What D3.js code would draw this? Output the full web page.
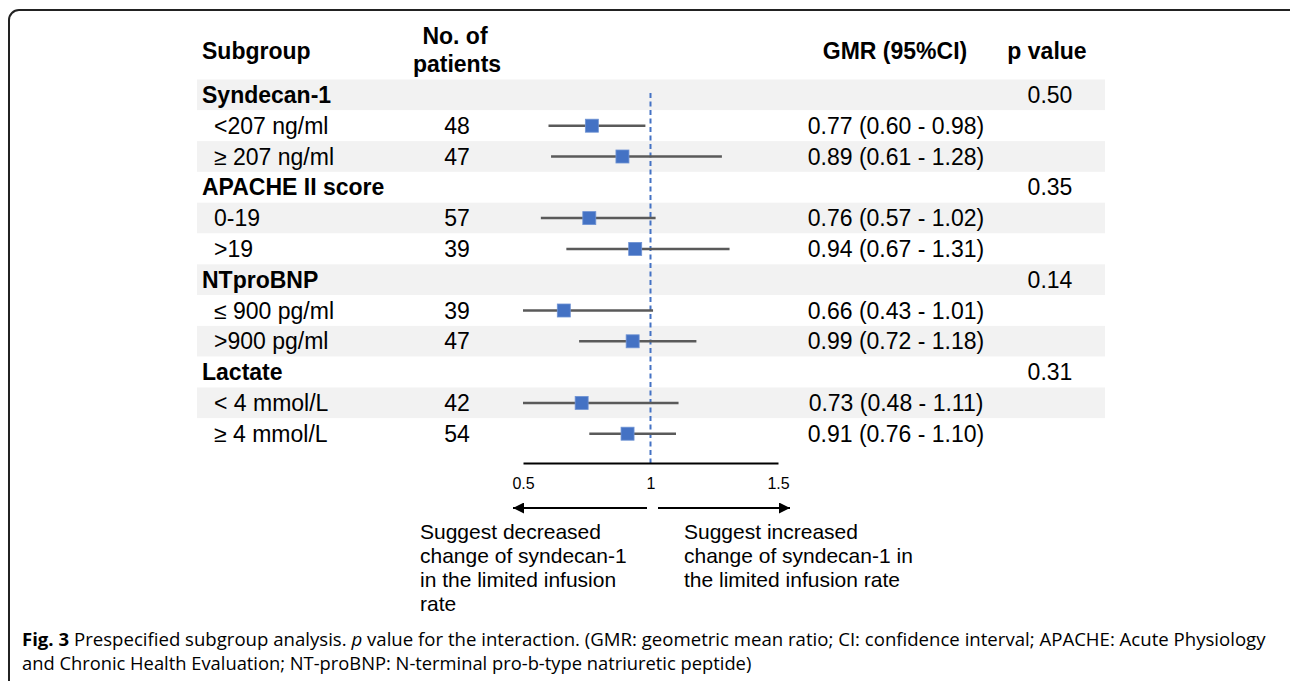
<!DOCTYPE html>
<html>
<head>
<meta charset="utf-8">
<script src="https://cdn.jsdelivr.net/npm/d3@7"></script>
<style>
  body { margin: 0; background: #fff; }
  svg text { font-family: "Liberation Sans", Arial, sans-serif; fill: #000; }
  .caption text { font-family: "Open Sans", sans-serif; }
</style>
</head>
<body>
<div id="chart"></div>
<script>
// subgroup headers with their interaction p values
var groups = ["Syndecan-1", "APACHE II score", "NTproBNP", "Lactate"];
var pValues = ["0.50", "0.35", "0.14", "0.31"];

// sub rows (two per group)
var subLabels = ["<207 ng/ml", "\u2265 207 ng/ml", "0-19", ">19", "\u2264 900 pg/ml", ">900 pg/ml", "< 4 mmol/L", "\u2265 4 mmol/L"];
var patients = [48, 47, 57, 39, 39, 47, 42, 54];
var gmrText = ["0.77 (0.60 - 0.98)", "0.89 (0.61 - 1.28)", "0.76 (0.57 - 1.02)", "0.94 (0.67 - 1.31)",
               "0.66 (0.43 - 1.01)", "0.99 (0.72 - 1.18)", "0.73 (0.48 - 1.11)", "0.91 (0.76 - 1.10)"];
// marker positions as drawn in the figure
var gmr = [0.77, 0.89, 0.76, 0.94, 0.66, 0.93, 0.73, 0.91];
var ciLow = [0.60, 0.61, 0.57, 0.67, 0.43, 0.72, 0.48, 0.76];
var ciHigh = [0.98, 1.28, 1.02, 1.31, 1.01, 1.18, 1.11, 1.10];

var axisTicks = [0.5, 1, 1.5];

var svgWidth = 1290, svgHeight = 681;

var svg = d3.select("#chart").append("svg")
  .attr("width", svgWidth)
  .attr("height", svgHeight);

// frame
svg.append("rect")
  .attr("x", 9).attr("y", 10)
  .attr("width", 1290).attr("height", 720)
  .attr("rx", 10)
  .attr("fill", "none")
  .attr("stroke", "#222")
  .attr("stroke-width", 2);

// build table rows
var rows = [];
groups.forEach(function(g, gi) {
  rows.push({ type: "group", label: g, p: pValues[gi] });
  for (var k = 0; k < 2; k++) {
    var i = gi * 2 + k;
    rows.push({ type: "sub", label: subLabels[i], n: patients[i], est: gmr[i],
                lo: ciLow[i], hi: ciHigh[i], txt: gmrText[i] });
  }
});

var rowTop = 79.5, rowH = 30.8;
var y = d3.scaleBand()
  .domain(d3.range(rows.length))
  .range([rowTop, rowTop + rowH * rows.length])
  .padding(0);

var x = d3.scaleLinear().domain([0.5, 1.5]).range([523, 778]);

var fs = 23;
var base = 8;

// row shading
svg.append("g").selectAll("rect")
  .data(rows)
  .enter()
  .append("rect")
  .attr("x", 197)
  .attr("y", (d, i) => y(i))
  .attr("width", 1105 - 197)
  .attr("height", y.bandwidth())
  .attr("fill", (d, i) => i % 2 === 0 ? "#f2f2f2" : "#fff");

// column headers
var head = svg.append("g").attr("font-size", fs);
head.append("text").attr("x", 202).attr("y", 59).text("Subgroup").style("font-weight", "bold");
head.append("text").attr("x", 455).attr("y", 44).attr("text-anchor", "middle").text("No. of").style("font-weight", "bold");
head.append("text").attr("x", 457).attr("y", 72).attr("text-anchor", "middle").text("patients").style("font-weight", "bold");
head.append("text").attr("x", 895).attr("y", 59).attr("text-anchor", "middle").text("GMR (95%CI)").style("font-weight", "bold");
head.append("text").attr("x", 1047).attr("y", 59).attr("text-anchor", "middle").text("p value").style("font-weight", "bold");

var cy = i => y(i) + y.bandwidth() / 2;

// labels
svg.append("g").selectAll("text")
  .data(rows)
  .enter()
  .append("text")
  .attr("x", d => d.type === "group" ? 202 : 214)
  .attr("y", (d, i) => cy(i) + base)
  .attr("font-size", fs)
  .style("font-weight", d => d.type === "group" ? "bold" : "normal")
  .text(d => d.label);

// p values
svg.append("g").selectAll("text")
  .data(rows.map((d, i) => [d, i]).filter(d => d[0].type === "group"))
  .enter()
  .append("text")
  .attr("x", 1050)
  .attr("y", d => cy(d[1]) + base)
  .attr("text-anchor", "middle")
  .attr("font-size", fs)
  .text(d => d[0].p);

var subs = rows.map((d, i) => Object.assign({ idx: i }, d)).filter(d => d.type === "sub");

// patients
svg.append("g").selectAll("text")
  .data(subs)
  .enter()
  .append("text")
  .attr("x", 457)
  .attr("y", d => cy(d.idx) + base)
  .attr("text-anchor", "middle")
  .attr("font-size", fs)
  .text(d => d.n);

// GMR text
svg.append("g").selectAll("text")
  .data(subs)
  .enter()
  .append("text")
  .attr("x", 896)
  .attr("y", d => cy(d.idx) + base)
  .attr("text-anchor", "middle")
  .attr("font-size", fs)
  .text(d => d.txt);

// reference line at 1
svg.append("line")
  .attr("x1", x(1)).attr("x2", x(1))
  .attr("y1", 93).attr("y2", 463)
  .attr("stroke", "#4472c4")
  .attr("stroke-width", 2)
  .attr("stroke-dasharray", "5,3.5");

// confidence intervals (clipped to axis range)
svg.append("g").selectAll("line")
  .data(subs)
  .enter()
  .append("line")
  .attr("x1", d => x(Math.max(d.lo, 0.5)))
  .attr("x2", d => x(Math.min(d.hi, 1.5)))
  .attr("y1", d => cy(d.idx))
  .attr("y2", d => cy(d.idx))
  .attr("stroke", "#5a5a5a")
  .attr("stroke-width", 2.5);

// point estimates
var sq = 13;
svg.append("g").selectAll("rect")
  .data(subs)
  .enter()
  .append("rect")
  .attr("x", d => x(d.est) - sq / 2)
  .attr("y", d => cy(d.idx) - sq / 2)
  .attr("width", sq)
  .attr("height", sq)
  .attr("fill", "#4472c4")
  .attr("stroke", "#6f93d4")
  .attr("stroke-width", 0.8);

// x axis
var xAxis = svg.append("g")
  .attr("transform", "translate(0,463)")
  .call(d3.axisBottom(x).tickValues(axisTicks).tickSize(0).tickSizeOuter(0).tickPadding(15)
        .tickFormat(d3.format("")));
xAxis.select(".domain").attr("stroke", "#000").attr("stroke-width", 2);
xAxis.selectAll("text")
  .attr("font-size", 16)
  .attr("font-family", "'Liberation Sans', Arial, sans-serif")
  .attr("fill", "#666");

// arrows
var defs = svg.append("defs");
defs.append("marker")
  .attr("id", "arrow")
  .attr("viewBox", "0 0 10 10")
  .attr("refX", 10).attr("refY", 5)
  .attr("markerWidth", 5.5).attr("markerHeight", 5.5)
  .attr("markerUnits", "strokeWidth")
  .attr("orient", "auto")
  .append("path")
  .attr("d", "M0,0L10,5L0,10Z")
  .attr("fill", "#000");

svg.append("line")
  .attr("x1", 647).attr("x2", 513).attr("y1", 508).attr("y2", 508)
  .attr("stroke", "#000").attr("stroke-width", 2)
  .attr("marker-end", "url(#arrow)");
svg.append("line")
  .attr("x1", 658).attr("x2", 790).attr("y1", 508).attr("y2", 508)
  .attr("stroke", "#000").attr("stroke-width", 2)
  .attr("marker-end", "url(#arrow)");

var leftNote = ["Suggest decreased", "change of syndecan-1", "in the limited infusion", "rate"];
var rightNote = ["Suggest increased", "change of syndecan-1 in", "the limited infusion rate"];

function note(lines, x0) {
  svg.append("g").selectAll("text")
    .data(lines)
    .enter()
    .append("text")
    .attr("x", x0)
    .attr("y", (d, i) => 539 + i * 24)
    .attr("font-size", 21)
    .text(d => d);
}
note(leftNote, 420);
note(rightNote, 684);

// caption
var cap = svg.append("g").attr("class", "caption");
var c1 = cap.append("text").attr("x", 22).attr("y", 646).attr("font-size", 18).attr("fill", "#222");
c1.append("tspan").style("font-weight", "bold").text("Fig. 3");
c1.append("tspan").text(" Prespecified subgroup analysis. ");
c1.append("tspan").style("font-style", "italic").text("p");
c1.append("tspan").text(" value for the interaction. (GMR: geometric mean ratio; CI: confidence interval; APACHE: Acute Physiology");
var c2 = cap.append("text").attr("x", 22).attr("y", 670).attr("font-size", 18).attr("fill", "#222")
  .text("and Chronic Health Evaluation; NT-proBNP: N-terminal pro-b-type natriuretic peptide)");

function fitWidth(sel, target) {
  var w = sel.node().getComputedTextLength();
  sel.attr("transform", "translate(22,0) scale(" + (target / w) + ",1) translate(-22,0)");
}
fitWidth(c1, 1266 - 22);
fitWidth(c2, 752 - 22);
</script>
</body>
</html>
